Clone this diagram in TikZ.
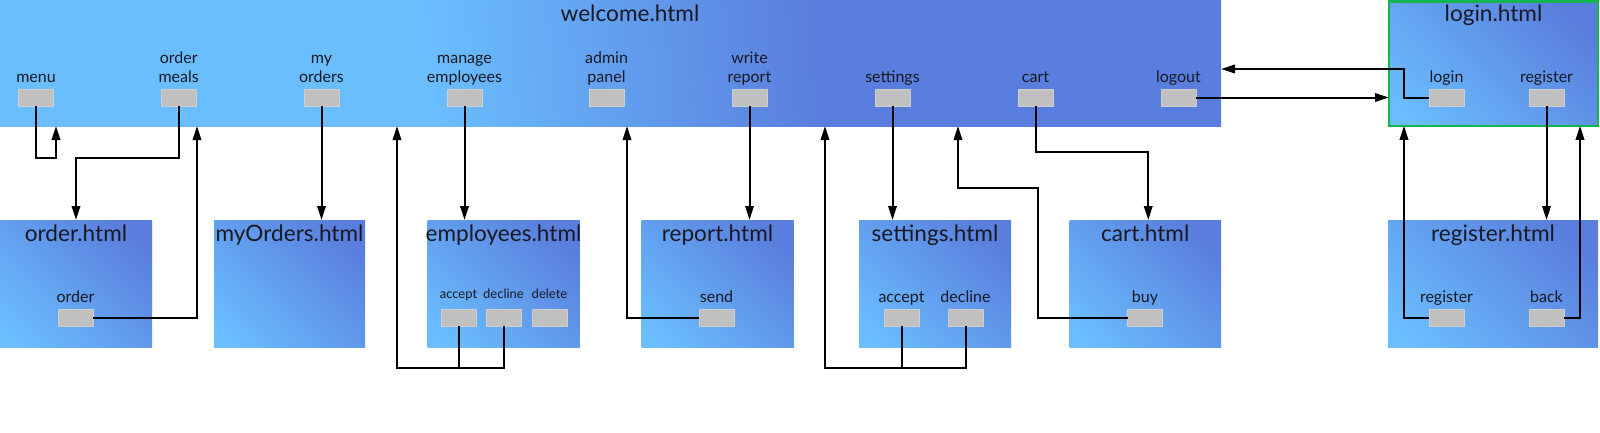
\documentclass[tikz,border=0pt]{standalone}
\usepackage{fontspec}
\setmainfont{Lato}
\usetikzlibrary{arrows.meta,calc}
\definecolor{lb}{RGB}{106,190,254}
\definecolor{db}{RGB}{90,126,221}
\definecolor{btngray}{RGB}{192,192,192}
\definecolor{btnedge}{RGB}{206,206,206}
\definecolor{loginborder}{RGB}{20,180,80}
\definecolor{ink}{RGB}{25,25,35}
\pgfdeclarehorizontalshading{welcomeshade}{100bp}{color(0bp)=(lb); color(42bp)=(lb); color(59bp)=(db); color(100bp)=(db)}
\pgfdeclarehorizontalshading{pageshade}{100bp}{color(0bp)=(lb); color(20bp)=(lb); color(76bp)=(db); color(100bp)=(db)}
\newcommand\twol[2]{\begin{tabular}[b]{@{}c@{}}#1\\#2\end{tabular}}
\tikzset{
  page/.style={shade, shading=pageshade, shading angle=45, inner sep=0pt, outer sep=0pt, anchor=north west, minimum height=127pt},
  btn/.style={fill=btngray, draw=btnedge, line width=0.6pt, minimum width=35pt, minimum height=17pt, inner sep=0pt, outer sep=0pt},
  title/.style={anchor=base, inner sep=0pt, font=\fontsize{22.6}{27}\selectfont, text=ink},
  lab/.style={anchor=base, inner sep=0pt, font=\fontsize{16}{19}\selectfont, text=ink},
  slab/.style={anchor=base, inner sep=0pt, font=\fontsize{13}{16}\selectfont, text=ink},
  conn/.style={draw=black, line width=2pt, -{Triangle[length=14pt,width=8.5pt]}},
  plain/.style={draw=black, line width=2pt},
}
\begin{document}
\begin{tikzpicture}[x=1pt,y=-1pt]
\useasboundingbox (0,0) rectangle (1600,432);
\fill[white] (0,0) rectangle (1600,432);
% welcome page
\node[shade, shading=welcomeshade, shading angle=5, inner sep=0pt, outer sep=0pt, anchor=north west, minimum width=1221pt, minimum height=126pt] (welcome) at (0,0) {};
\node[title] (welcomet) at (630,21) {welcome.html};
\node[btn] (bmenu) at (36,97.5) {};
\node[btn] (bmeals) at (178.7,97.5) {};
\node[btn] (bmyord) at (321.5,97.5) {};
\node[btn] (bmanage) at (464.5,97.5) {};
\node[btn] (badmin) at (606.5,97.5) {};
\node[btn] (breport) at (749.5,97.5) {};
\node[btn] (bsettings) at (892.5,97.5) {};
\node[btn] (bcart) at (1035.5,97.5) {};
\node[btn] (blogout) at (1178.5,97.5) {};
\node[lab] (lmenu) at (36,82) {menu};
\node[lab] (lmeals) at (178.7,82) {\twol{order}{meals}};
\node[lab] (lmyord) at (321.5,82) {\twol{my}{orders}};
\node[lab] (lmanage) at (464.5,82) {\twol{manage}{employees}};
\node[lab] (ladmin) at (606.5,82) {\twol{admin}{panel}};
\node[lab] (lreport) at (749.5,82) {\twol{write}{report}};
\node[lab] (lsettings) at (892.5,82) {settings};
\node[lab] (lcart) at (1035.5,82) {cart};
\node[lab] (llogout) at (1178.5,82) {logout};
% login page
\node[draw=loginborder, line width=2.5pt, shade, shading=pageshade, shading angle=45, inner sep=0pt, outer sep=0pt, anchor=north west, minimum width=209pt, minimum height=124.5pt] (login) at (1389,1.25) {};
\node[title] (logint) at ($(login.north)+(0,20)$) {login.html};
\node[btn] (blogin) at (1446.5,97.5) {};
\node[btn] (blreg) at (1546.5,97.5) {};
\node[lab] (llogin) at (1446.5,82) {login};
\node[lab] (llreg) at (1546.5,82) {register};
% lower pages
\node[page, minimum width=152pt] (order) at (0,220) {};
\node[page, minimum width=151pt] (myorders) at (214,220) {};
\node[page, minimum width=152pt] (employees) at (427.5,220) {};
\node[page, minimum width=152pt] (report) at (641.5,220) {};
\node[page, minimum width=152pt] (settings) at (859,220) {};
\node[page, minimum width=151.5pt] (cart) at (1069.5,220) {};
\node[page, minimum width=210pt] (register) at (1388,220) {};
\node[title] (ordert) at ($(order.north)+(0,21)$) {order.html};
\node[title] (myorderst) at ($(myorders.north)+(0,21)$) {myOrders.html};
\node[title] (employeest) at ($(employees.north)+(0,21)$) {employees.html};
\node[title] (reportt) at ($(report.north)+(0,21)$) {report.html};
\node[title] (settingst) at ($(settings.north)+(0,21)$) {settings.html};
\node[title] (cartt) at ($(cart.north)+(0,21)$) {cart.html};
\node[title] (registert) at ($(register.north)+(0,21)$) {register.html};
% lower buttons
\node[btn] (border) at (75.5,317.5) {};
\node[btn] (eaccept) at (458.5,317.5) {};
\node[btn] (edecline) at (503.5,317.5) {};
\node[btn] (edelete) at (549.5,317.5) {};
\node[btn] (bsend) at (716.5,317.5) {};
\node[btn] (saccept) at (901.5,317.5) {};
\node[btn] (sdecline) at (965.5,317.5) {};
\node[btn] (bbuy) at (1145,317.5) {};
\node[btn] (brreg) at (1446.5,318) {};
\node[btn] (bback) at (1546.5,318) {};
\node[lab] (lorder) at (75.5,302) {order};
\node[slab] (leaccept) at (458.5,298) {accept};
\node[slab] (ledecline) at (503.5,298) {decline};
\node[slab] (ledelete) at (549.5,298) {delete};
\node[lab] (lsend) at (716.5,302) {send};
\node[lab] (lsaccept) at (901.5,302) {accept};
\node[lab] (lsdecline) at (965.5,302) {decline};
\node[lab] (lbuy) at (1145,302) {buy};
\node[lab] (lrreg) at (1446.5,302) {register};
\node[lab] (lback) at (1546.5,302) {back};
% bend points
\coordinate (kb) at (1038,188);
\coordinate (kl) at (1404,69);
% connectors
\draw[conn] (bmenu.south) -- ++(0,52) -| ($(welcome.south west)+(56,0)$);
\draw[conn] (bmeals.south) -- ++(0,52) -| (order.north);
\draw[conn] (border.east) -| ($(welcome.south west)+(197,0)$);
\draw[conn] (bmyord.south) -- (bmyord.south |- myorders.north);
\draw[conn] (bmanage.south) -- (bmanage.south |- employees.north);
\draw[plain] (eaccept.south) -- ++(0,42);
\draw[conn] (edecline.south) -- ++(0,42) -| ($(welcome.south west)+(397,0)$);
\draw[conn] (bsend.west) -| ($(welcome.south west)+(627,0)$);
\draw[conn] (breport.south) -- (breport.south |- report.north);
\draw[conn] (bsettings.south) -- (bsettings.south |- settings.north);
\draw[plain] (saccept.south) -- ++(0,42);
\draw[conn] (sdecline.south) -- ++(0,42) -| ($(welcome.south west)+(825,0)$);
\draw[conn] (bcart.south) -- ++(0,46) -| ($(cart.north)+(3,0)$);
\draw[conn] (bbuy.west) -| (kb) -| ($(welcome.south west)+(958,0)$);
\draw[conn] (blogout.east) -- (blogout.east -| login.west);
\draw[conn] (blogin.west) -| (kl) -- (kl -| welcome.east);
\draw[conn] (blreg.south) -- (blreg.south |- register.north);
\draw[conn] (brreg.west) -| ($(login.south west)+(15,0)$);
\draw[conn] (bback.east) -| ($(login.south east)+(-18,0)$);
\end{tikzpicture}
\end{document}
